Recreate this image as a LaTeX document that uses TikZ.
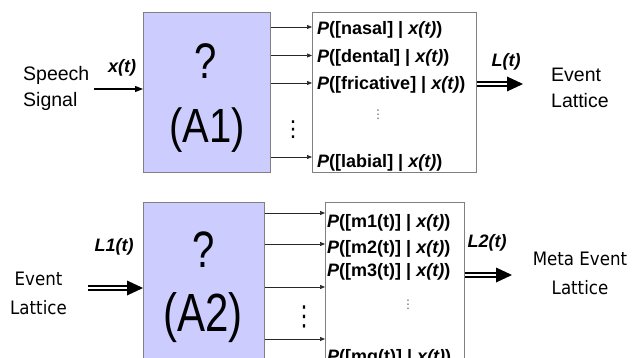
\documentclass[tikz,border=0pt]{standalone}
\usepackage{fontspec}
\usepackage{graphicx}
\setmainfont{Liberation Sans}
\newfontfamily\condsans[FakeStretch=0.9]{DejaVu Sans}
\newfontfamily\symfont{DejaVu Sans}
\usetikzlibrary{arrows.meta}
\definecolor{boxblue}{RGB}{204,204,255}
\definecolor{boxgray}{RGB}{128,128,128}
\begin{document}
\begin{tikzpicture}[x=1pt,y=-1pt,
  stagebox/.style={draw=boxgray, fill=boxblue, line width=0.8pt, inner sep=0pt, anchor=north west},
  outbox/.style={draw=boxgray, fill=white, line width=0.8pt, inner sep=0pt, anchor=north west},
  bigtext/.style={font=\fontsize{40}{40}\selectfont, inner sep=0pt},
  siglabel/.style={font=\fontsize{18}{20}\selectfont\bfseries\itshape, inner sep=0pt},
  prob/.style={font=\fontsize{18}{20}\selectfont\bfseries, anchor=west, inner sep=0pt},
  plaintext/.style={font=\fontsize{19.5}{26}\selectfont, inner sep=0pt},
  condtext/.style={font=\condsans\fontsize{18.5}{29}\selectfont, inner sep=0pt, align=center},
  bigdots/.style={font=\symfont\fontsize{22}{22}\selectfont, inner sep=0pt},
  smalldots/.style={font=\symfont\fontsize{12}{12}\selectfont, text=black!60, inner sep=0pt},
  feed/.style={line width=0.7pt, draw=black!85, -{Triangle[length=5pt,width=4pt]}},
  input/.style={line width=1.2pt, -{Triangle[length=8pt,width=6pt]}},
  dbl/.style={double, line width=2pt, double distance=1.8pt},
]
\useasboundingbox (0,0) rectangle (636,358);
\clip (0,0) rectangle (636,358);

% ---------------- upper stage ----------------
\node[stagebox, minimum width=127pt, minimum height=160pt] (A1) at (143,12) {};
\node[outbox, minimum width=164pt, minimum height=160pt] (R1) at (312,12) {};

\node[bigtext] (q1) at (206,61) {\scalebox{1}[1.25]{?}};
\node[bigtext] (a1) at (207,130) {\scalebox{1}[1.2]{(A1)}};

\node[plaintext, align=left, anchor=west] (speech) at (23,88) {Speech\\Signal};
\node[siglabel] (xt) at (122,68) {x(t)};
\coordinate (in1) at (94,89);
\draw[input] (in1) -- (A1.west |- in1);

\foreach \yy/\nm in {27/f1, 55.5/f2, 83/f3, 157/f4} {
  \coordinate (\nm) at (0,\yy);
  \draw[feed] (A1.east |- \nm) -- (R1.west |- \nm);
}
\node[bigdots] (gapdots1) at (293,129.5) {⋮};

\node[prob] (p1) at (317,30) {\textit{P}([nasal] | \textit{x(t)})};
\node[prob] (p2) at (317,57.5) {\textit{P}([dental] | \textit{x(t)})};
\node[prob] (p3) at (317,85) {\textit{P}([fricative] | \textit{x(t)})};
\node[smalldots] (boxdots1) at (378,115) {⋮};
\node[prob] (p4) at (317,163) {\textit{P}([labial] | \textit{x(t)})};

\node[siglabel] (lt) at (506,62) {L(t)};
\coordinate (t1) at (523,84);
\draw[dbl] (R1.east |- t1) -- ([xshift=-14pt]t1);
\fill ([xshift=-16pt,yshift=7.5pt]t1) -- (t1) -- ([xshift=-16pt,yshift=-7.5pt]t1) -- cycle;
\node[plaintext, align=left, anchor=west] (ev1) at (551,88) {Event\\Lattice};

% ---------------- lower stage ----------------
\node[stagebox, minimum width=121pt, minimum height=175pt] (A2) at (143,202) {};
\node[outbox, minimum width=139pt, minimum height=175pt] (R2) at (325,202) {};

\node[bigtext] (q2) at (204,250) {\scalebox{1}[1.28]{?}};
\node[bigtext, font=\fontsize{42}{42}\selectfont] (a2) at (203,318) {\scalebox{1}[1.28]{(A2)}};

\node[condtext] (ev2) at (38.5,293) {Event\\Lattice};
\node[siglabel] (l1t) at (114,247) {L1(t)};
\coordinate (s2) at (88,288);
\coordinate (t2) at (A2.west |- s2);
\draw[dbl] (s2) -- ([xshift=-14pt]t2);
\fill ([xshift=-16pt,yshift=7.5pt]t2) -- (t2) -- ([xshift=-16pt,yshift=-7.5pt]t2) -- cycle;

\foreach \yy/\nm in {213/g1, 244/g2, 287/g3, 339/g4} {
  \coordinate (\nm) at (0,\yy);
  \draw[feed] (A2.east |- \nm) -- (R2.west |- \nm);
}
\node[bigdots] (gapdots2) at (304,317) {\scalebox{1}[1.25]{⋮}};

\node[prob] (m1) at (327,222.5) {\textit{P}([m1(t)] | \textit{x(t)})};
\node[prob] (m2) at (327,249) {\textit{P}([m2(t)] | \textit{x(t)})};
\node[prob] (m3) at (327,272) {\textit{P}([m3(t)] | \textit{x(t)})};
\node[smalldots] (boxdots2) at (408,305) {⋮};
\node[prob] (mq) at (327,358) {\textit{P}([mq(t)] | \textit{x(t)})};

\node[siglabel] (l2t) at (487,243) {L2(t)};
\coordinate (t3) at (512,275);
\draw[dbl] (R2.east |- t3) -- ([xshift=-14pt]t3);
\fill ([xshift=-16pt,yshift=7.5pt]t3) -- (t3) -- ([xshift=-16pt,yshift=-7.5pt]t3) -- cycle;
\node[condtext] (meta) at (580,273) {Meta Event\\Lattice};
\end{tikzpicture}
\end{document}
